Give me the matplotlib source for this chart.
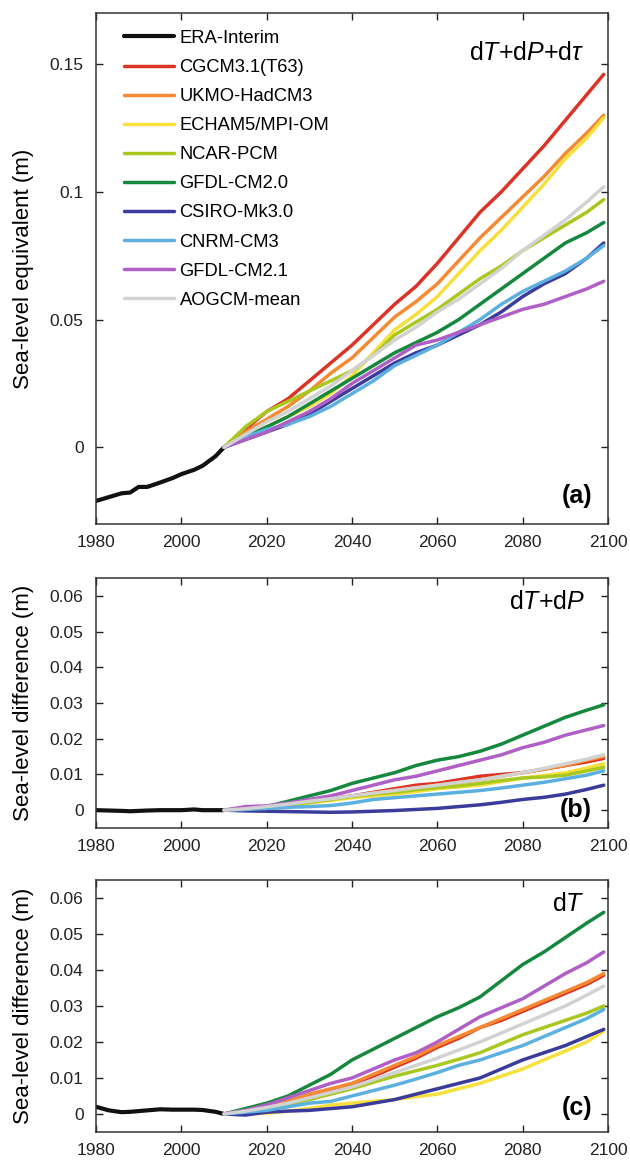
import matplotlib
matplotlib.use("Agg")
import matplotlib.pyplot as plt
from matplotlib.ticker import FormatStrFormatter

'''
Sea-level equivalent of the ice sheet SMB change, three panels
'''

plt.rcParams['font.family'] = ['Liberation Sans', 'DejaVu Sans']
plt.rcParams['mathtext.fontset'] = 'custom'
plt.rcParams['mathtext.rm'] = 'Liberation Sans'
plt.rcParams['mathtext.it'] = 'Liberation Sans:italic'

MODELS = ["CGCM3.1(T63)", "UKMO-HadCM3", "ECHAM5/MPI-OM", "NCAR-PCM",
          "GFDL-CM2.0", "CSIRO-Mk3.0", "CNRM-CM3", "GFDL-CM2.1", "AOGCM-mean"]

COLORS = ['#dc3326', '#f58a33', '#f7e03c', '#a9c81f', '#16883d',
          '#3b3b9c', '#5cb0e0', '#b05fc6', '#d2d2d2']

ERA_YEARS = [1980, 1983, 1986, 1988, 1990, 1992, 1995, 1998, 2000, 2003, 2005, 2008, 2010]
YEARS = [2010, 2015, 2020, 2025, 2030, 2035, 2040, 2045, 2050, 2055,
         2060, 2065, 2070, 2075, 2080, 2085, 2090, 2095, 2099]

# panel (a): dT+dP+dtau
era_a = [-0.021, -0.0195, -0.018, -0.0177, -0.0155, -0.0155, -0.0138, -0.012, -0.0105,
         -0.0088, -0.0072, -0.0035, 0.0]
cgcm_a = [0, 0.007, 0.014, 0.019, 0.026, 0.033, 0.040, 0.048, 0.056, 0.063,
          0.072, 0.082, 0.092, 0.100, 0.109, 0.118, 0.128, 0.138, 0.146]
ukmo_a = [0, 0.006, 0.011, 0.016, 0.022, 0.029, 0.035, 0.043, 0.051, 0.057,
          0.064, 0.073, 0.082, 0.090, 0.098, 0.106, 0.115, 0.123, 0.130]
echam_a = [0, 0.004, 0.008, 0.012, 0.016, 0.021, 0.028, 0.037, 0.046, 0.052,
           0.059, 0.068, 0.077, 0.085, 0.094, 0.103, 0.113, 0.121, 0.129]
ncar_a = [0, 0.008, 0.014, 0.018, 0.022, 0.026, 0.030, 0.036, 0.044, 0.049,
          0.054, 0.060, 0.066, 0.071, 0.077, 0.082, 0.087, 0.092, 0.097]
gfdl20_a = [0, 0.004, 0.008, 0.012, 0.017, 0.022, 0.027, 0.032, 0.037, 0.041,
            0.045, 0.050, 0.056, 0.062, 0.068, 0.074, 0.080, 0.084, 0.088]
csiro_a = [0, 0.003, 0.006, 0.009, 0.013, 0.018, 0.023, 0.028, 0.033, 0.037,
           0.040, 0.044, 0.048, 0.053, 0.059, 0.064, 0.068, 0.074, 0.080]
cnrm_a = [0, 0.004, 0.007, 0.009, 0.012, 0.016, 0.021, 0.026, 0.032, 0.036,
          0.040, 0.045, 0.050, 0.056, 0.061, 0.065, 0.069, 0.074, 0.079]
gfdl21_a = [0, 0.003, 0.006, 0.010, 0.014, 0.019, 0.025, 0.030, 0.035, 0.040,
            0.042, 0.045, 0.048, 0.051, 0.054, 0.056, 0.059, 0.062, 0.065]
mean_a = [0, 0.005, 0.010, 0.014, 0.019, 0.024, 0.030, 0.036, 0.042, 0.047,
          0.053, 0.058, 0.064, 0.070, 0.077, 0.083, 0.089, 0.096, 0.102]

# panel (b): dT+dP
era_b = [0, -0.0001, -0.0002, -0.0003, -0.0002, -0.0001, 0, 0, 0, 0.0002, 0, 0, 0]
cgcm_b = [0, 0.0003, 0.0008, 0.0015, 0.0025, 0.0032, 0.004, 0.005, 0.006, 0.007,
          0.0075, 0.0085, 0.0095, 0.010, 0.0105, 0.0115, 0.0125, 0.0135, 0.0145]
ukmo_b = [0, 0.0003, 0.0008, 0.0015, 0.0023, 0.003, 0.0038, 0.0047, 0.0055, 0.0062,
          0.007, 0.0077, 0.0085, 0.0095, 0.0105, 0.0115, 0.0125, 0.014, 0.015]
echam_b = [0, 0.0002, 0.0006, 0.0012, 0.002, 0.0027, 0.0035, 0.004, 0.0045, 0.0052,
           0.006, 0.0065, 0.007, 0.008, 0.009, 0.0097, 0.0105, 0.0118, 0.013]
ncar_b = [0, 0.0004, 0.0008, 0.0015, 0.0022, 0.003, 0.0038, 0.0045, 0.005, 0.0057,
          0.0063, 0.0068, 0.0075, 0.0083, 0.009, 0.0093, 0.0098, 0.011, 0.012]
gfdl20_b = [0, 0.0005, 0.001, 0.0025, 0.004, 0.0055, 0.0075, 0.009, 0.0105, 0.0125,
            0.014, 0.015, 0.0165, 0.0185, 0.021, 0.0235, 0.026, 0.028, 0.0295]
csiro_b = [0, -0.0002, -0.0003, -0.0004, -0.0005, -0.0006, -0.0005, -0.0003, -0.0001, 0.0002,
           0.0005, 0.001, 0.0015, 0.0022, 0.003, 0.0036, 0.0045, 0.0058, 0.007]
cnrm_b = [0, 0.0002, 0.0005, 0.0008, 0.001, 0.0013, 0.002, 0.003, 0.0035, 0.004,
          0.0045, 0.005, 0.0055, 0.0062, 0.007, 0.0078, 0.0088, 0.0098, 0.011]
gfdl21_b = [0, 0.001, 0.0012, 0.002, 0.003, 0.004, 0.0055, 0.007, 0.0085, 0.0095,
            0.011, 0.0125, 0.014, 0.0155, 0.0175, 0.019, 0.021, 0.0225, 0.0237]
mean_b = [0, 0.0004, 0.001, 0.0017, 0.0025, 0.0032, 0.004, 0.0048, 0.0055, 0.0063,
          0.007, 0.0078, 0.0085, 0.0095, 0.0105, 0.0117, 0.013, 0.0143, 0.0155]

# panel (c): dT
era_c = [0.002, 0.001, 0.0005, 0.0006, 0.0008, 0.001, 0.0013, 0.0012, 0.0012, 0.0012,
         0.0011, 0.0006, 0.0]
cgcm_c = [0, 0.001, 0.002, 0.0035, 0.005, 0.0065, 0.008, 0.0105, 0.013, 0.0155,
          0.0185, 0.021, 0.024, 0.026, 0.0285, 0.031, 0.0335, 0.036, 0.0385]
ukmo_c = [0, 0.001, 0.002, 0.0035, 0.0055, 0.007, 0.0085, 0.011, 0.0135, 0.016,
          0.019, 0.0215, 0.024, 0.0265, 0.029, 0.0315, 0.034, 0.0365, 0.039]
echam_c = [0, 0.0001, 0.0002, 0.0008, 0.0015, 0.0025, 0.003, 0.0035, 0.004, 0.0048,
           0.0055, 0.007, 0.0085, 0.0105, 0.0125, 0.015, 0.0175, 0.020, 0.023]
ncar_c = [0, 0.0007, 0.0015, 0.0028, 0.004, 0.0055, 0.007, 0.0088, 0.0105, 0.012,
          0.0135, 0.0152, 0.017, 0.0195, 0.022, 0.024, 0.026, 0.028, 0.030]
gfdl20_c = [0, 0.0015, 0.003, 0.005, 0.008, 0.011, 0.015, 0.018, 0.021, 0.024,
            0.027, 0.0295, 0.0325, 0.037, 0.0415, 0.045, 0.049, 0.053, 0.056]
csiro_c = [0, -0.0003, 0.0005, 0.0008, 0.001, 0.0015, 0.002, 0.003, 0.004, 0.0055,
           0.007, 0.0085, 0.010, 0.0125, 0.015, 0.017, 0.019, 0.0215, 0.0235]
cnrm_c = [0, 0.0005, 0.001, 0.002, 0.003, 0.0035, 0.005, 0.0065, 0.008, 0.0097,
          0.0115, 0.0135, 0.015, 0.017, 0.019, 0.0215, 0.024, 0.0265, 0.029]
gfdl21_c = [0, 0.001, 0.0025, 0.0045, 0.0065, 0.0085, 0.010, 0.0125, 0.015, 0.017,
            0.020, 0.0235, 0.027, 0.0295, 0.032, 0.0355, 0.039, 0.042, 0.045]
mean_c = [0, 0.0008, 0.0018, 0.003, 0.0045, 0.006, 0.0075, 0.0095, 0.0115, 0.0135,
          0.0155, 0.0178, 0.020, 0.0225, 0.025, 0.0275, 0.030, 0.033, 0.0355]

PANELS = [
    (era_a, [cgcm_a, ukmo_a, echam_a, ncar_a, gfdl20_a, csiro_a, cnrm_a, gfdl21_a, mean_a],
     r'd$\it{T}$+d$\it{P}$+d$\tau$', '(a)', 'Sea-level equivalent (m)',
     (-0.03, 0.17), [0, 0.05, 0.1, 0.15]),
    (era_b, [cgcm_b, ukmo_b, echam_b, ncar_b, gfdl20_b, csiro_b, cnrm_b, gfdl21_b, mean_b],
     r'd$\it{T}$+d$\it{P}$', '(b)', 'Sea-level difference (m)',
     (-0.005, 0.065), [0, 0.01, 0.02, 0.03, 0.04, 0.05, 0.06]),
    (era_c, [cgcm_c, ukmo_c, echam_c, ncar_c, gfdl20_c, csiro_c, cnrm_c, gfdl21_c, mean_c],
     r'd$\it{T}$', '(c)', 'Sea-level difference (m)',
     (-0.005, 0.065), [0, 0.01, 0.02, 0.03, 0.04, 0.05, 0.06]),
]

# axes boxes in figure fractions: left, bottom, width, height
BOXES = [[0.1524, 0.5487, 0.8127, 0.4401],
         [0.1524, 0.2868, 0.8127, 0.2153],
         [0.1524, 0.0250, 0.8127, 0.2171]]
TITLE_Y = [0.909, 0.875, 0.875]
TAG_Y = [0.055, 0.073, 0.095]


def setup_axis(ax, ylim, yticks, ylabel):
    '''
    Limits, ticks and labels shared by the panels
    '''
    ax.set_xlim(1980, 2100)
    ax.set_ylim(*ylim)
    ax.set_xticks(range(1980, 2101, 20))
    ax.set_yticks(yticks)
    ax.yaxis.set_major_formatter(FormatStrFormatter('%g'))
    ax.tick_params(direction='in', top=True, right=True, length=5, width=1,
                   labelsize=12.5, pad=9, colors='#222222')
    ax.tick_params(axis='x', pad=8)
    for s in ax.spines.values():
        s.set_linewidth(1.1)
        s.set_color('#333333')
    ax.set_ylabel(ylabel, fontsize=16)
    ax.yaxis.set_label_coords(-0.122, 0.5)


fig = plt.figure(figsize=(6.3, 11.61), dpi=100)

for i, (era, series, title, tag, ylabel, ylim, yticks) in enumerate(PANELS):
    ax = fig.add_axes(BOXES[i])
    ax.plot(ERA_YEARS, era, color='#111111', lw=3.0, label='ERA-Interim',
            solid_capstyle='round')
    for name, col, vals in zip(MODELS, COLORS, series):
        ax.plot(YEARS, vals, color=col, lw=2.5, label=name, solid_capstyle='round')
    setup_axis(ax, ylim, yticks, ylabel)
    ax.text(0.955, TITLE_Y[i], title, transform=ax.transAxes,
            ha='right', va='baseline', fontsize=18)
    ax.text(0.969, TAG_Y[i], tag, transform=ax.transAxes, ha='right', va='center',
            fontsize=18, fontweight='bold')
    if i == 0:
        ax.legend(loc='upper left', bbox_to_anchor=(0.0547, 0.967), frameon=False,
                  fontsize=13.2, handlelength=2.73, handletextpad=0.3,
                  labelspacing=0.66, borderaxespad=0, borderpad=0)

plt.savefig('out.png', dpi=100)
plt.close()
